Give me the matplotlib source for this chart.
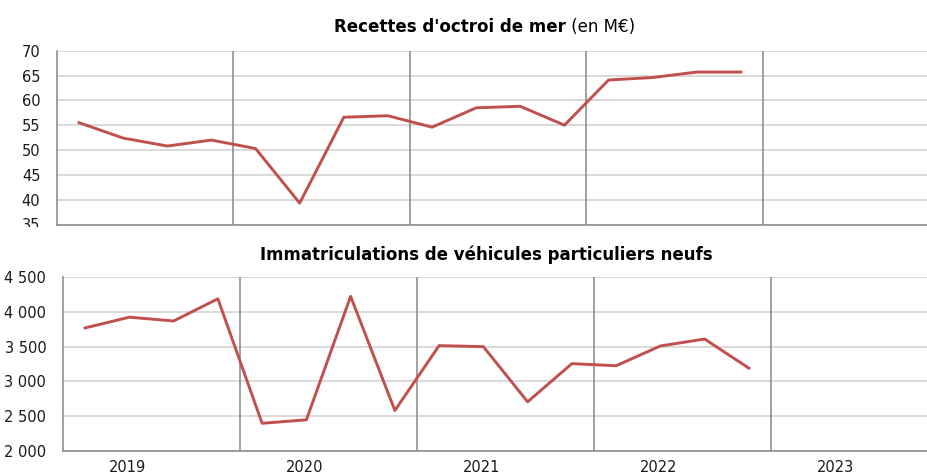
import matplotlib
matplotlib.use("Agg")
import matplotlib.pyplot as plt
from matplotlib.transforms import Bbox, TransformedBbox

# quarterly series, 2019 Q1 -> 2022 Q4
years = ["2019", "2020", "2021", "2022", "2023"]
octroi = [55.5, 52.4, 50.8, 52.0, 50.3, 39.3, 56.6, 56.9,
          54.6, 58.5, 58.8, 55.0, 64.1, 64.6, 65.7, 65.7]
immat = [3770, 3925, 3870, 4190, 2395, 2445, 4225, 2580,
         3515, 3500, 2705, 3255, 3225, 3510, 3610, 3190]

RED = "#c0504d"
GRID = "#d9d9d9"
DARK = "#868686"
W, H = 928, 476

plt.rcParams["font.family"] = ["DejaVu Sans"]

fig = plt.figure(figsize=(W / 100, H / 100), dpi=100)


def quarter_x(n):
    return [i // 4 + (i % 4 + 0.5) / 4 for i in range(n)]


def setup(ax, year_px, left_px):
    ax.set_xlim(0, (W - left_px) / year_px)
    for s in ["top", "right"]:
        ax.spines[s].set_visible(False)
    for s in ["left", "bottom"]:
        ax.spines[s].set_color(DARK)
        ax.spines[s].set_linewidth(1.1)
    ax.yaxis.grid(True, color=GRID, linewidth=1.4)
    ax.set_axisbelow(True)
    for yr in range(1, len(years)):
        ax.axvline(yr, color=DARK, linewidth=1.1, zorder=1)
    ax.tick_params(length=0, labelsize=10.5, colors="#1a1a1a")
    ax.tick_params(axis="y", pad=12)


# top panel: octroi de mer
ax1 = fig.add_axes([57 / W, 1 - 224.5 / H, (W - 57) / W, (224.5 - 50.7) / H])
setup(ax1, 176.5, 57)
ax1.plot(quarter_x(len(octroi)), octroi, color=RED, linewidth=2.1, zorder=3)
ax1.set_ylim(35, 70)
ax1.set_yticks(range(35, 71, 5))
ax1.set_xticks([])

fig.text(566 / W, 1 - 27 / H, "Recettes d'octroi de mer", fontsize=12,
         fontweight="bold", ha="right", va="center")
fig.text(566 / W, 1 - 27 / H, " (en M€)", fontsize=12, ha="left", va="center")

# bottom panel: immatriculations
ax2 = fig.add_axes([63 / W, 1 - 450.7 / H, (W - 63) / W, (450.7 - 277.3) / H])
setup(ax2, 177, 63)
ax2.plot(quarter_x(len(immat)), immat, color=RED, linewidth=2.1, zorder=3)
ax2.set_ylim(2000, 4500)
ax2.set_yticks(range(2000, 4501, 500))
ax2.set_yticklabels([f"{v:,}".replace(",", " ") for v in range(2000, 4501, 500)])
ax2.set_xticks([i + 0.365 for i in range(len(years))])
ax2.set_xticklabels(years)
ax2.tick_params(axis="x", pad=7)

fig.text(486 / W, 1 - 255 / H, "Immatriculations de véhicules particuliers neufs",
         fontsize=12, fontweight="bold", ha="center", va="center")

# the lowest label of the top panel is cut by the panel below
clip = TransformedBbox(Bbox([[0, 1 - 227 / H], [1, 1]]), fig.transFigure)
for lab in ax1.get_yticklabels():
    lab.set_clip_box(clip)
    lab.set_clip_on(True)

fig.savefig("out.png", dpi=100, facecolor="white")
